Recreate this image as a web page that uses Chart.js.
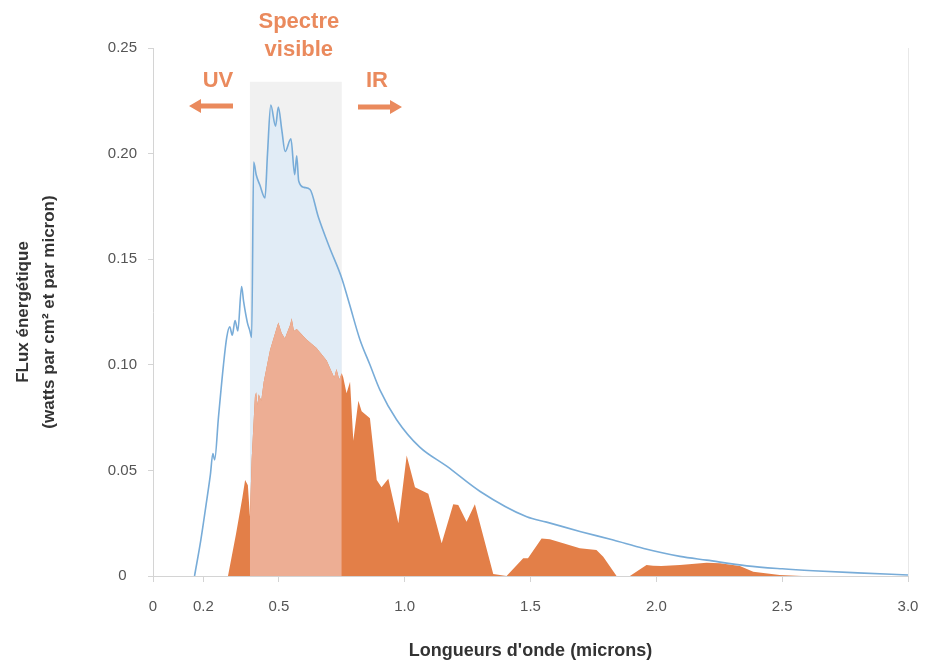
<!DOCTYPE html>
<html>
<head>
<meta charset="utf-8">
<script src="https://cdn.jsdelivr.net/npm/chart.js@4"></script>
<style>
  html, body { margin: 0; padding: 0; background: #fff; }
  #wrap { width: 925px; height: 669px; position: relative; }
</style>
</head>
<body>
<div id="wrap"><canvas id="spectre"></canvas></div>
<script>
// --- données ---
const xTicks = [0, 0.2, 0.5, 1.0, 1.5, 2.0, 2.5, 3.0];
const visibleBand = [0.385, 0.75];   // microns
const bandTop = 0.234;

// flux hors atmosphère (courbe bleue)
const blueX = [0.165, 0.19, 0.21, 0.228, 0.238, 0.245, 0.26, 0.28, 0.293, 0.305, 0.315, 0.326, 0.337, 0.352, 0.36, 0.375,
  0.385, 0.392, 0.40, 0.41, 0.425, 0.445, 0.455, 0.468, 0.487, 0.498, 0.512, 0.525, 0.548, 0.563, 0.571, 0.579, 0.6, 0.624,
  0.657, 0.7, 0.75, 0.78, 0.822, 0.862, 0.902, 0.968, 1.06, 1.167, 1.3, 1.485, 1.564, 1.7, 1.829, 1.95, 2.094, 2.2, 2.359,
  2.5, 2.623, 2.8, 3.0];
const blueY = [0, 0.017, 0.033, 0.048, 0.058, 0.055, 0.075, 0.1, 0.113, 0.118, 0.114, 0.121, 0.116, 0.137, 0.13, 0.12,
  0.116, 0.113, 0.196, 0.19, 0.185, 0.179, 0.2, 0.223, 0.213, 0.222, 0.211, 0.201, 0.207, 0.19, 0.199, 0.187, 0.184, 0.183,
  0.17, 0.156, 0.141, 0.129, 0.112, 0.1, 0.088, 0.074, 0.061, 0.052, 0.04, 0.028, 0.0255, 0.021, 0.017, 0.013, 0.0093, 0.0075, 0.0048,
  0.0034, 0.0025, 0.0015, 0.0005];

// flux au sol (surface orange)
const orangeX = [0.298, 0.33, 0.355, 0.366, 0.377, 0.385, 0.392, 0.405, 0.41, 0.415, 0.42, 0.43, 0.44, 0.465, 0.49, 0.498,
  0.511, 0.524, 0.545, 0.551, 0.56, 0.571, 0.61, 0.65, 0.69, 0.72, 0.729, 0.74, 0.75, 0.756, 0.769, 0.783, 0.796, 0.816,
  0.829, 0.862, 0.889, 0.908, 0.935, 0.975, 1.008, 1.041, 1.094, 1.147, 1.193, 1.213, 1.246, 1.279, 1.352, 1.405, 1.471,
  1.49, 1.544, 1.577, 1.63, 1.696, 1.762, 1.789, 1.842, 1.895, 1.961, 1.987, 2.02, 2.094, 2.2, 2.253, 2.332, 2.385, 2.49, 2.58];
const orangeY = [0, 0.02, 0.037, 0.0455, 0.043, 0.028, 0.055, 0.085, 0.087, 0.081, 0.086, 0.083, 0.092, 0.107, 0.117, 0.12,
  0.115, 0.1125, 0.119, 0.122, 0.116, 0.117, 0.112, 0.108, 0.102, 0.094, 0.098, 0.093, 0.096, 0.094, 0.0865, 0.092, 0.064, 0.083,
  0.078, 0.0747, 0.0455, 0.042, 0.046, 0.025, 0.057, 0.042, 0.039, 0.0155, 0.034, 0.0336, 0.0257, 0.034, 0.001, 0, 0.0084,
  0.0084, 0.0178, 0.0174, 0.0155, 0.0131, 0.0123, 0.0091, 0, 0, 0.0052, 0.0049, 0.0047, 0.0052, 0.0063, 0.006, 0.0047, 0.002, 0.0005, 0];

const colors = {
    blue: '#78acd8',
    blueFill: '#e1ecf6',
    orange: '#e37f48',
    salmon: '#edae94',
    band: '#f1f1f1',
    label: '#ea8a5d',
    axis: '#d4d4d4',
    text: '#555'
};

const toPoints = (xs, ys) => xs.map((x, i) => ({ x: x, y: ys[i] }));
const inBand = p => p.x >= visibleBand[0] && p.x <= visibleBand[1];

const bluePts = toPoints(blueX, blueY);
const orangePts = toPoints(orangeX, orangeY);

// fond gris du spectre visible + textes UV / IR
const annotations = {
    id: 'annotations',
    beforeDatasetsDraw(chart) {
        const { ctx, scales: { x, y } } = chart;
        const x0 = x.getPixelForValue(visibleBand[0]);
        const x1 = x.getPixelForValue(visibleBand[1]);
        const yt = y.getPixelForValue(bandTop);
        ctx.save();
        ctx.fillStyle = colors.band;
        ctx.fillRect(x0, yt, x1 - x0, y.bottom - yt);
        ctx.restore();
    },
    afterDraw(chart) {
        const { ctx, chartArea, scales: { x } } = chart;
        ctx.save();
        // bord droit
        ctx.strokeStyle = '#e8e8e8';
        ctx.lineWidth = 1;
        ctx.beginPath();
        ctx.moveTo(chartArea.right + 0.5, chartArea.top);
        ctx.lineTo(chartArea.right + 0.5, chartArea.bottom);
        ctx.stroke();

        ctx.fillStyle = colors.label;
        ctx.strokeStyle = colors.label;
        ctx.textAlign = 'center';
        ctx.textBaseline = 'middle';
        ctx.font = 'bold 22px "Liberation Sans", Arial, sans-serif';
        const cx = x.getPixelForValue((visibleBand[0] + visibleBand[1]) / 2) + 3;
        ctx.fillText('Spectre', cx, 22);
        ctx.fillText('visible', cx, 50);
        ctx.fillText('UV', 218, 81);
        ctx.fillText('IR', 377, 81);

        // flèches
        ctx.lineWidth = 5;
        ctx.beginPath();
        ctx.moveTo(198, 106); ctx.lineTo(233, 106);
        ctx.moveTo(358, 107); ctx.lineTo(392, 107);
        ctx.stroke();
        ctx.beginPath();
        ctx.moveTo(189, 106); ctx.lineTo(201, 99); ctx.lineTo(201, 113); ctx.closePath();
        ctx.moveTo(402, 107); ctx.lineTo(390, 100); ctx.lineTo(390, 114); ctx.closePath();
        ctx.fill();
        ctx.restore();
    }
};

new Chart(document.getElementById('spectre'), {
    type: 'line',
    data: {
        datasets: [
            { data: bluePts, borderColor: colors.blue, borderWidth: 1.6, fill: false, cubicInterpolationMode: 'monotone' },
            { data: orangePts.filter(inBand), borderWidth: 0, borderColor: 'transparent', backgroundColor: colors.salmon, fill: 'origin' },
            { data: orangePts, borderWidth: 0, borderColor: 'transparent', backgroundColor: colors.orange, fill: 'origin' },
            { data: bluePts.filter(inBand), borderWidth: 0, borderColor: 'transparent', backgroundColor: colors.blueFill, fill: 'origin', cubicInterpolationMode: 'monotone' }
        ]
    },
    options: {
        responsive: true,
        maintainAspectRatio: false,
        animation: false,
        layout: { padding: { top: 48, right: 17, left: 0, bottom: 0 } },
        elements: { point: { radius: 0 }, line: { tension: 0 } },
        plugins: { legend: { display: false }, tooltip: { enabled: false } },
        scales: {
            x: {
                type: 'linear',
                min: 0, max: 3,
                afterBuildTicks: s => { s.ticks = xTicks.map(v => ({ value: v })); },
                afterFit: s => { s.height = 669 - 576; s.paddingLeft = 0; s.paddingRight = 0; },
                grid: { drawOnChartArea: false, drawTicks: true, tickLength: 6, color: colors.axis },
                border: { color: colors.axis },
                ticks: {
                    color: colors.text, padding: 16, maxRotation: 0, autoSkip: false,
                    font: { family: '"Liberation Sans", Arial, sans-serif', size: 15 },
                    callback: v => v === 0 ? '0' : v.toFixed(1)
                },
                title: {
                    display: true, text: "Longueurs d'onde (microns)", color: '#333',
                    font: { family: '"Liberation Sans", Arial, sans-serif', size: 18, weight: 'bold' },
                    padding: { top: 0, bottom: 7 }
                }
            },
            y: {
                min: 0, max: 0.25,
                afterFit: s => { s.width = 153; s.paddingTop = 0; s.paddingBottom = 0; },
                grid: { drawOnChartArea: false, drawTicks: true, tickLength: 5, color: colors.axis },
                border: { color: colors.axis },
                ticks: {
                    stepSize: 0.05, color: colors.text, padding: 11, crossAlign: 'center',
                    font: { family: '"Liberation Sans", Arial, sans-serif', size: 15 },
                    callback: v => v === 0 ? '0' : v.toFixed(2)
                },
                title: {
                    display: true,
                    text: ['FLux énergétique', '(watts par cm² et par micron)'],
                    color: '#333',
                    font: { family: '"Liberation Sans", Arial, sans-serif', size: 17, weight: 'bold', lineHeight: 1.5 },
                    padding: { top: 11, bottom: 0 }
                }
            }
        }
    },
    plugins: [annotations]
});
</script>
</body>
</html>
